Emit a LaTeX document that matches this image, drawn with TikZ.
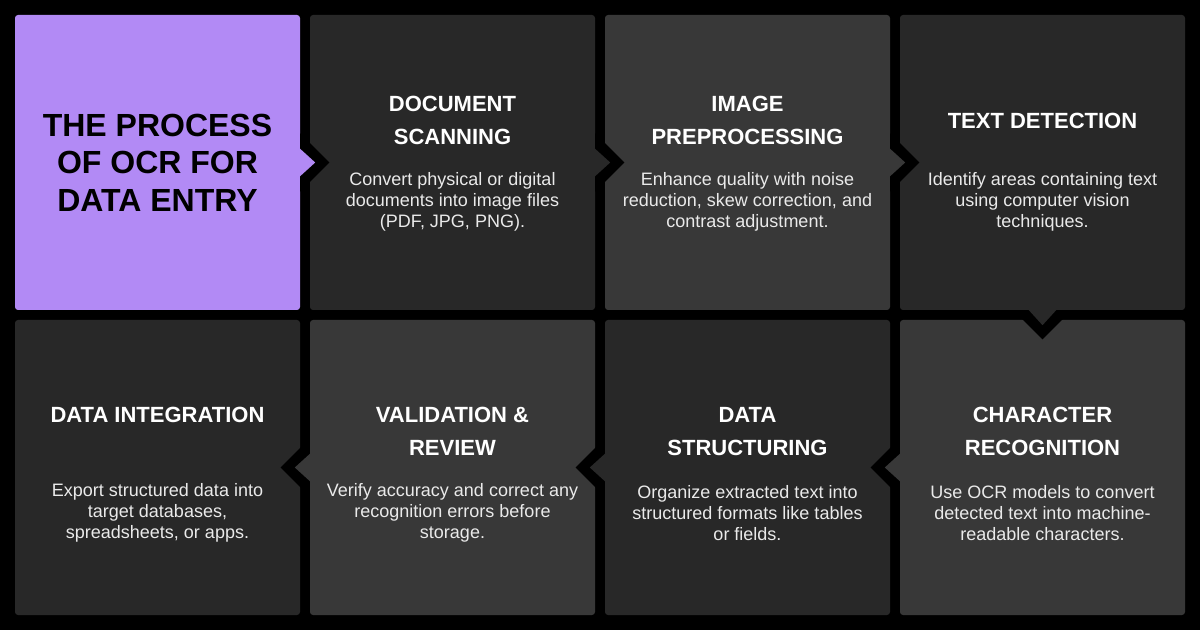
\documentclass[tikz,border=0pt]{standalone}
\usepackage{fontspec}
\setmainfont{Liberation Sans}
\definecolor{ocrpurple}{HTML}{B28AF5}
\definecolor{paneldark}{HTML}{282828}
\definecolor{panelmid}{HTML}{383838}
\definecolor{bodygray}{HTML}{EAEAEA}
\begin{document}
\begin{tikzpicture}[x=1pt,y=1pt,
  panel/.style={rounded corners=3pt, minimum width=285pt, minimum height=295pt, inner sep=0pt, draw=none},
  ttl/.style={text=white, font=\bfseries\fontsize{22}{33}\selectfont, align=center, inner sep=0pt},
  bodytext/.style={text=bodygray, font=\fontsize{18}{21}\selectfont, align=center, inner sep=0pt},
  bigtitle/.style={text=black, font=\bfseries\fontsize{32}{37.5}\selectfont, align=center, inner sep=0pt},
  flowarrow/.pic={
    \fill[black] (0,-29.14) -- (29.14,0) -- (0,29.14) -- cycle;
    \fill[#1] (-1.5,-15) -- (15,0) -- (-1.5,15) -- cycle;
  }]
\fill[black] (0,0) rectangle (1200,630);
\useasboundingbox (0,0) rectangle (1200,630);
% panels
\node[panel, fill=ocrpurple] (p1) at (157.5,467.5) {};
\node[panel, fill=paneldark] (p2) at (452.5,467.5) {};
\node[panel, fill=panelmid]  (p3) at (747.5,467.5) {};
\node[panel, fill=paneldark] (p4) at (1042.5,467.5) {};
\node[panel, fill=paneldark] (q1) at (157.5,162.5) {};
\node[panel, fill=panelmid]  (q2) at (452.5,162.5) {};
\node[panel, fill=paneldark] (q3) at (747.5,162.5) {};
\node[panel, fill=panelmid]  (q4) at (1042.5,162.5) {};
% arrows
\pic at (p1.east) {flowarrow=ocrpurple};
\pic at (p2.east) {flowarrow=paneldark};
\pic at (p3.east) {flowarrow=panelmid};
\pic[rotate=-90] at (p4.south) {flowarrow=paneldark};
\pic[rotate=180] at (q4.west) {flowarrow=panelmid};
\pic[rotate=180] at (q3.west) {flowarrow=paneldark};
\pic[rotate=180] at (q2.west) {flowarrow=panelmid};
% texts
\node[bigtitle] (t1) at (157.5,467.5) {THE PROCESS\\OF OCR FOR\\DATA ENTRY};
\node[ttl] (t2) at (452.5,509.5) {DOCUMENT\\SCANNING};
\node[bodytext] (b2) at (452.5,428) {Convert physical or digital\\documents into image files\\(PDF, JPG, PNG).};
\node[ttl] (t3) at (747.5,509.5) {IMAGE\\PREPROCESSING};
\node[bodytext] (b3) at (747.5,428) {Enhance quality with noise\\reduction, skew correction, and\\contrast adjustment.};
\node[ttl] (t4) at (1042.5,509.5) {TEXT DETECTION};
\node[bodytext] (b4) at (1042.5,428) {Identify areas containing text\\using computer vision\\techniques.};
\node[ttl] (s1) at (157.5,215) {DATA INTEGRATION};
\node[bodytext] (c1) at (157.5,117) {Export structured data into\\target databases,\\spreadsheets, or apps.};
\node[ttl] (s2) at (452.5,198.5) {VALIDATION \&\\REVIEW};
\node[bodytext] (c2) at (452.5,117) {Verify accuracy and correct any\\recognition errors before\\storage.};
\node[ttl] (s3) at (747.5,198.5) {DATA\\STRUCTURING};
\node[bodytext] (c3) at (747.5,117) {Organize extracted text into\\structured formats like tables\\or fields.};
\node[ttl] (s4) at (1042.5,198.5) {CHARACTER\\RECOGNITION};
\node[bodytext] (c4) at (1042.5,117) {Use OCR models to convert\\detected text into machine-\\readable characters.};
\end{tikzpicture}
\end{document}
